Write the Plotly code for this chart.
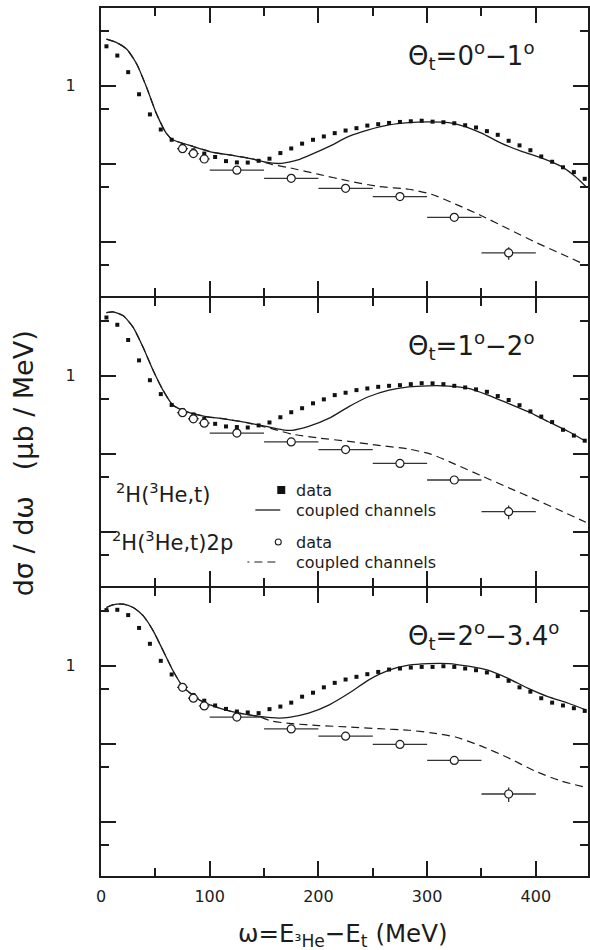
import math
import plotly.graph_objects as go

# ---------------- data ----------------
X_SQ = [5, 15, 25, 35, 45, 55, 65, 75, 85, 95, 105, 115, 125, 135, 145, 155, 165, 175, 185, 195,
        205, 215, 225, 235, 245, 255, 265, 275, 285, 295, 305, 315, 325, 335, 345, 355, 365, 375,
        385, 395, 405, 415, 425, 435, 445]

P1_SQ = [3.22, 2.45, 1.50, 0.78, 0.43, 0.275, 0.203, 0.172, 0.149, 0.135, 0.122, 0.108, 0.104, 0.1035,
         0.109, 0.116, 0.137, 0.157, 0.181, 0.203, 0.224, 0.247, 0.267, 0.286, 0.309, 0.322, 0.334,
         0.344, 0.351, 0.357, 0.347, 0.341, 0.331, 0.312, 0.292, 0.262, 0.235, 0.197, 0.172, 0.149,
         0.124, 0.106, 0.090, 0.078, 0.064]
P2_SQ = [5.62, 4.53, 2.89, 1.58, 0.879, 0.583, 0.423, 0.365, 0.32, 0.28, 0.242, 0.224, 0.220, 0.217,
         0.231, 0.252, 0.294, 0.341, 0.384, 0.444, 0.499, 0.566, 0.607, 0.656, 0.689, 0.723, 0.745,
         0.759, 0.782, 0.805, 0.801, 0.782, 0.745, 0.710, 0.670, 0.624, 0.550, 0.490, 0.42, 0.35,
         0.300, 0.255, 0.203, 0.171, 0.147]
P3_SQ = [5.20, 5.25, 4.49, 3.07, 1.92, 1.16, 0.775, 0.550, 0.423, 0.357, 0.31, 0.28, 0.259, 0.252,
         0.247, 0.278, 0.300, 0.337, 0.402, 0.452, 0.530, 0.605, 0.668, 0.723, 0.782, 0.836, 0.897,
         0.924, 0.951, 0.969, 0.969, 0.989, 0.969, 0.924, 0.879, 0.822, 0.738, 0.643, 0.530, 0.466,
         0.384, 0.337, 0.31, 0.286, 0.264]

# coupled channels, 2H(3He,t)  (solid)
P1_CC_X = [5, 14, 23.5, 32.7, 41.8, 51, 60, 66, 84.5, 103, 121, 139.5, 151.7, 164, 173, 182, 191, 210,
           228, 246, 265, 283, 301, 320, 335, 350, 368, 387, 405, 423, 436, 446]
P1_CC_Y = [3.99, 3.62, 2.98, 1.92, 0.97, 0.44, 0.247, 0.203, 0.167, 0.140, 0.128, 0.115, 0.1045, 0.1007,
           0.105, 0.113, 0.127, 0.167, 0.224, 0.272, 0.315, 0.337, 0.344, 0.337, 0.300, 0.247, 0.184,
           0.144, 0.119, 0.093, 0.069, 0.051]
P2_CC_X = [5, 11, 20.5, 29.6, 38.7, 47.9, 57, 66, 78.5, 96.7, 115, 133, 151.7, 167, 176, 191, 210, 228,
           246, 265, 283, 301, 320, 338, 356, 374.5, 393, 411, 430, 446]
P2_CC_Y = [6.50, 6.64, 5.90, 4.19, 2.33, 1.18, 0.656, 0.423, 0.347, 0.300, 0.278, 0.252, 0.224, 0.203,
           0.200, 0.224, 0.286, 0.403, 0.539, 0.656, 0.723, 0.745, 0.740, 0.689, 0.566, 0.444, 0.347,
           0.259, 0.193, 0.144]
P3_CC_X = [5, 11, 20.5, 29.6, 38.7, 47.9, 57, 66, 75.4, 90.6, 109, 127, 145.6, 164, 173, 191, 210, 228,
           246, 265, 283, 301, 320, 338, 356, 374.5, 393, 411, 430, 446]
P3_CC_Y = [5.62, 6.08, 6.20, 5.62, 4.41, 2.84, 1.58, 0.879, 0.539, 0.365, 0.286, 0.247, 0.224, 0.213,
           0.218, 0.247, 0.316, 0.444, 0.656, 0.879, 1.02, 1.07, 1.07, 0.989, 0.879, 0.689, 0.514,
           0.403, 0.331, 0.272]

# coupled channels, 2H(3He,t)2p  (dashed)
P1_BU_X = [5, 14, 23.5, 32.7, 41.8, 51, 60, 66, 84.5, 103, 121, 139.5, 157, 173, 200.5, 228, 255.5, 283,
           304, 326, 350, 374.5, 399, 423, 446]
P1_BU_Y = [3.99, 3.62, 2.98, 1.92, 0.97, 0.44, 0.247, 0.203, 0.167, 0.140, 0.128, 0.115, 0.098, 0.089,
           0.073, 0.060, 0.051, 0.047, 0.0406, 0.0303, 0.0215, 0.0146, 0.0099, 0.0070, 0.0050]
P2_BU_X = [5, 11, 20.5, 29.6, 38.7, 47.9, 57, 66, 78.5, 96.7, 115, 133, 157, 176, 200.5, 228, 255.5, 283,
           304, 326, 350, 374.5, 399, 423, 446]
P2_BU_Y = [6.50, 6.64, 5.90, 4.19, 2.33, 1.18, 0.656, 0.423, 0.347, 0.300, 0.278, 0.252, 0.21, 0.178,
           0.159, 0.144, 0.128, 0.115, 0.098, 0.073, 0.052, 0.0368, 0.0261, 0.0185, 0.0132]
P3_BU_X = [5, 11, 20.5, 29.6, 38.7, 47.9, 57, 66, 75.4, 90.6, 109, 127, 145.6, 157, 176, 200.5, 228,
           255.5, 283, 304, 326, 350, 374.5, 399, 423, 446]
P3_BU_Y = [5.62, 6.08, 6.20, 5.62, 4.41, 2.84, 1.58, 0.879, 0.539, 0.365, 0.286, 0.247, 0.222, 0.195,
           0.181, 0.171, 0.164, 0.156, 0.149, 0.138, 0.122, 0.093, 0.066, 0.0447, 0.0333, 0.0275]

# data, 2H(3He,t)2p (open circles)
X_CI = [75, 85, 95, 125, 175, 225, 275, 325, 375]
XERR_CI = [5, 5, 5, 25, 25, 25, 25, 25, 25]
P1_CI = [0.156, 0.135, 0.115, 0.0826, 0.0649, 0.0483, 0.0379, 0.0205, 0.00714]
P2_CI = [0.337, 0.281, 0.247, 0.184, 0.1416, 0.113, 0.075, 0.046, 0.018]
P3_CI = [0.530, 0.384, 0.306, 0.220, 0.155, 0.125, 0.098, 0.061, 0.0226]
P1_CI_YERR = [0, 0, 0, 0, 0, 0, 0, 0, 0.0013]
P2_CI_YERR = [0, 0, 0, 0, 0, 0, 0, 0, 0.0036]
P3_CI_YERR = [0, 0, 0, 0, 0, 0, 0, 0, 0.0047]

PANEL_TITLES = ["Θ<sub>t</sub>=0<sup>o</sup>−1<sup>o</sup>",
                "Θ<sub>t</sub>=1<sup>o</sup>−2<sup>o</sup>",
                "Θ<sub>t</sub>=2<sup>o</sup>−3.4<sup>o</sup>"]

X_TICKS = [0, 100, 200, 300, 400]
X_MINOR = [50, 150, 250, 350]
Y_TICKS = [0.01, 0.1, 1]
Y_TICKTEXT = ["", "", "1"]
Y_MINOR = [0.005, 0.05, 0.5, 5]

# ---------------- figure ----------------
W, H = 590, 950
ML, MR, MT, MB = 101, 0, 7, 73
PW = W - ML - MR
PH = H - MT - MB
FONT = "DejaVu Sans"
INK = "#1c1c1c"
LW = 2


def px_x(px):
    return (px - ML) / PW


def px_y(py):
    return (H - MB - py) / PH


# panel frame lines (pixel rows) in the picture
EDGES = [7, 297, 587, 877]
domains = []
for i in range(3):
    top = EDGES[i] + LW / 2
    bot = EDGES[i + 1] - LW / 2
    domains.append([max(0.0, px_y(bot)), min(1.0, px_y(top))])

fig = go.Figure()

panels = [
    (P1_SQ, P1_CC_X, P1_CC_Y, P1_BU_X, P1_BU_Y, P1_CI, P1_CI_YERR),
    (P2_SQ, P2_CC_X, P2_CC_Y, P2_BU_X, P2_BU_Y, P2_CI, P2_CI_YERR),
    (P3_SQ, P3_CC_X, P3_CC_Y, P3_BU_X, P3_BU_Y, P3_CI, P3_CI_YERR),
]

for i, (sq, ccx, ccy, bux, buy, ci, ciye) in enumerate(panels):
    n = i + 1
    xa = "x" if n == 1 else f"x{n}"
    ya = "y" if n == 1 else f"y{n}"
    fig.add_trace(go.Scatter(x=bux, y=buy, mode="lines", xaxis=xa, yaxis=ya,
                             line=dict(color=INK, width=1.2, dash="8px,5px", shape="spline", smoothing=0.6),
                             showlegend=False, hoverinfo="skip"))
    fig.add_trace(go.Scatter(x=ccx, y=ccy, mode="lines", xaxis=xa, yaxis=ya,
                             line=dict(color=INK, width=1.3, shape="spline", smoothing=0.6),
                             showlegend=False, hoverinfo="skip"))
    fig.add_trace(go.Scatter(x=X_SQ, y=sq, mode="markers", xaxis=xa, yaxis=ya,
                             marker=dict(symbol="square", size=4, color="#111111", line=dict(width=0)),
                             showlegend=False))
    fig.add_trace(go.Scatter(x=X_CI, y=ci, mode="markers", xaxis=xa, yaxis=ya,
                             marker=dict(symbol="circle", size=8, color="white",
                                         line=dict(color=INK, width=1.2)),
                             error_x=dict(type="data", array=XERR_CI, symmetric=True, width=0,
                                          thickness=1.3, color="#333333"),
                             error_y=dict(type="data", array=ciye, symmetric=True, width=0,
                                          thickness=1.3, color="#333333"),
                             showlegend=False))

layout = dict(
    width=W, height=H,
    margin=dict(l=ML, r=MR, t=MT, b=MB, pad=0),
    paper_bgcolor="white", plot_bgcolor="white",
    font=dict(family=FONT, size=16, color=INK),
    showlegend=False,
)

for i in range(3):
    n = i + 1
    xk = "xaxis" if n == 1 else f"xaxis{n}"
    yk = "yaxis" if n == 1 else f"yaxis{n}"
    layout[xk] = dict(
        domain=[0, 1], anchor="y" if n == 1 else f"y{n}",
        range=[0, 448], showgrid=False, zeroline=False,
        showline=True, linecolor=INK, linewidth=LW, mirror="allticks",
        ticks="inside", ticklen=15, tickwidth=1.5, tickcolor=INK,
        tickmode="array", tickvals=X_TICKS, ticktext=[str(v) for v in X_TICKS],
        showticklabels=(n == 3), ticklabelstandoff=5,
        tickfont=dict(family=FONT, size=16, color=INK),
        minor=dict(tickmode="array", tickvals=X_MINOR, ticks="inside", ticklen=8,
                   tickwidth=1.5, tickcolor=INK, showgrid=False),
    )
    layout[yk] = dict(
        domain=domains[i], anchor="x" if n == 1 else f"x{n}",
        type="log", range=[math.log10(0.002), 1], showgrid=False, zeroline=False,
        showline=True, linecolor=INK, linewidth=LW, mirror="allticks",
        ticks="inside", ticklen=15, tickwidth=1.5, tickcolor=INK,
        tickmode="array", tickvals=Y_TICKS, ticktext=Y_TICKTEXT,
        ticklabelstandoff=20,
        tickfont=dict(family=FONT, size=16, color=INK),
        minor=dict(tickmode="array", tickvals=Y_MINOR, ticks="inside", ticklen=8,
                   tickwidth=1.5, tickcolor=INK, showgrid=False),
    )

fig.update_layout(**layout)

annotations = []
for i, t in enumerate(PANEL_TITLES):
    n = i + 1
    annotations.append(dict(
        text=t, xref=("x" if n == 1 else f"x{n}") + " domain", yref=("y" if n == 1 else f"y{n}") + " domain",
        x=px_x(407), y=0.835, xanchor="left", yanchor="middle", showarrow=False,
        font=dict(family=FONT, size=26, color=INK)))

annotations.append(dict(text="dσ / dω   (μb / MeV)", xref="paper", yref="paper",
                        x=px_x(24), y=px_y(463), xanchor="center", yanchor="middle",
                        textangle=-90, showarrow=False, font=dict(family=FONT, size=27, color=INK)))
annotations.append(dict(text="ω=E<sub>³He</sub>−E<sub>t</sub> (MeV)", xref="paper", yref="paper",
                        x=px_x(343), y=px_y(935), xanchor="center", yanchor="middle",
                        showarrow=False, font=dict(family=FONT, size=24.5, color=INK)))

# legend (inside middle panel)
LEG_FONT = dict(family=FONT, size=16, color=INK)
ROW = [490, 510, 542, 562]
legend_texts = [
    dict(text="<sup>2</sup>H(<sup>3</sup>He,t)", x=px_x(115), y=px_y(493), xanchor="left", yanchor="middle",
         font=dict(family=FONT, size=21, color=INK)),
    dict(text="<sup>2</sup>H(<sup>3</sup>He,t)2p", x=px_x(111), y=px_y(541), xanchor="left", yanchor="middle",
         font=dict(family=FONT, size=21, color=INK)),
    dict(text="data", x=px_x(296), y=px_y(ROW[0]), xanchor="left", yanchor="middle", font=LEG_FONT),
    dict(text="coupled channels", x=px_x(296), y=px_y(ROW[1]), xanchor="left", yanchor="middle", font=LEG_FONT),
    dict(text="data", x=px_x(296), y=px_y(ROW[2]), xanchor="left", yanchor="middle", font=LEG_FONT),
    dict(text="coupled channels", x=px_x(296), y=px_y(ROW[3]), xanchor="left", yanchor="middle", font=LEG_FONT),
]
for a in legend_texts:
    a.update(xref="paper", yref="paper", showarrow=False, borderpad=0)
annotations += legend_texts

shapes = [
    dict(type="rect", xref="paper", yref="paper", x0=px_x(278), x1=px_x(286),
         y0=px_y(ROW[0] + 4), y1=px_y(ROW[0] - 4), fillcolor="#111111", line=dict(width=0)),
    dict(type="line", xref="paper", yref="paper", x0=px_x(256), x1=px_x(281),
         y0=px_y(ROW[1]), y1=px_y(ROW[1]), line=dict(color=INK, width=1.3)),
    dict(type="circle", xref="paper", yref="paper", x0=px_x(276), x1=px_x(282),
         y0=px_y(ROW[2] + 3), y1=px_y(ROW[2] - 3), fillcolor="white", line=dict(color=INK, width=1.1)),
    dict(type="line", xref="paper", yref="paper", x0=px_x(248), x1=px_x(281),
         y0=px_y(ROW[3]), y1=px_y(ROW[3]), line=dict(color=INK, width=1.2, dash="2px,5px,8px,5px,8px,5px")),
]

fig.update_layout(annotations=annotations, shapes=shapes)
fig.write_html("out.html")
